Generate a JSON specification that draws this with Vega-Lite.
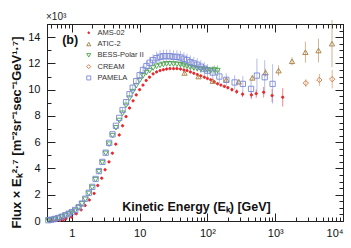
{
  "$schema": "https://vega.github.io/schema/vega-lite/v6.json",
  "autosize": {"type": "none"},
  "width": 296,
  "height": 197,
  "padding": {"left": 47, "top": 24, "right": 8, "bottom": 27},
  "background": "white",
  "title": {"text": "×10³", "anchor": "start", "frame": "group", "offset": 2, "dx": -1, "dy": 4, "fontSize": 10, "fontWeight": "normal", "font": "Liberation Sans", "color": "#222"},
  "config": {
    "view": {"stroke": "#222", "strokeWidth": 1},
    "axis": {"grid": false, "domainColor": "#222", "tickColor": "#222", "labelFont": "Liberation Sans", "labelFontSize": 11, "labelColor": "#111", "titleFont": "Liberation Sans", "titleColor": "#111"},
    "legend": {"orient": "none", "legendX": 38, "legendY": 5, "padding": 0, "labelFont": "Liberation Sans", "labelFontSize": 7.5, "labelColor": "#333", "labelOffset": 5, "symbolSize": 16, "symbolStrokeWidth": 0.9, "rowPadding": 2.3}
  },
  "data": {"values": [
    {"exp":"AMS-02","E":0.51,"F":0.02},{"exp":"AMS-02","E":0.58,"F":0.03},{"exp":"AMS-02","E":0.67,"F":0.05},{"exp":"AMS-02","E":0.75,"F":0.1},{"exp":"AMS-02","E":0.82,"F":0.18},{"exp":"AMS-02","E":0.98,"F":0.3},{"exp":"AMS-02","E":1.16,"F":0.55},{"exp":"AMS-02","E":1.37,"F":0.85},{"exp":"AMS-02","E":1.57,"F":1.18},{"exp":"AMS-02","E":1.81,"F":1.6},{"exp":"AMS-02","E":2.13,"F":2.1},{"exp":"AMS-02","E":2.41,"F":2.7},{"exp":"AMS-02","E":2.76,"F":3.26},{"exp":"AMS-02","E":3.09,"F":3.9},{"exp":"AMS-02","E":3.53,"F":4.5},{"exp":"AMS-02","E":3.96,"F":5.16},{"exp":"AMS-02","E":4.45,"F":5.85},{"exp":"AMS-02","E":5.0,"F":6.55},{"exp":"AMS-02","E":5.6,"F":7.25},{"exp":"AMS-02","E":6.3,"F":7.95},{"exp":"AMS-02","E":7.1,"F":8.6},{"exp":"AMS-02","E":8.0,"F":9.15},{"exp":"AMS-02","E":8.9,"F":9.6},{"exp":"AMS-02","E":10,"F":10.0},{"exp":"AMS-02","E":11.2,"F":10.35},{"exp":"AMS-02","E":12.5,"F":10.7},{"exp":"AMS-02","E":14,"F":10.95},{"exp":"AMS-02","E":15.8,"F":11.2},{"exp":"AMS-02","E":17.8,"F":11.35},{"exp":"AMS-02","E":20,"F":11.45},{"exp":"AMS-02","E":22.4,"F":11.52},{"exp":"AMS-02","E":25,"F":11.57},{"exp":"AMS-02","E":28,"F":11.6},{"exp":"AMS-02","E":31.6,"F":11.6},{"exp":"AMS-02","E":35.5,"F":11.6},{"exp":"AMS-02","E":40,"F":11.57},{"exp":"AMS-02","E":45,"F":11.5},{"exp":"AMS-02","E":50,"F":11.45},{"exp":"AMS-02","E":56,"F":11.35},{"exp":"AMS-02","E":63,"F":11.25},{"exp":"AMS-02","E":71,"F":11.15},{"exp":"AMS-02","E":80,"F":11.05},{"exp":"AMS-02","E":90,"F":10.95},{"exp":"AMS-02","E":100,"F":10.85},{"exp":"AMS-02","E":112,"F":10.75},{"exp":"AMS-02","E":126,"F":10.6},{"exp":"AMS-02","E":141,"F":10.45},{"exp":"AMS-02","E":158,"F":10.35},
    {"exp":"AMS-02","E":178,"F":10.25,"lo":10.15,"hi":10.35},{"exp":"AMS-02","E":200,"F":10.15,"lo":10.03,"hi":10.27},{"exp":"AMS-02","E":230,"F":10.0,"lo":9.85,"hi":10.15},{"exp":"AMS-02","E":270,"F":9.85,"lo":9.67,"hi":10.03},{"exp":"AMS-02","E":330,"F":9.65,"lo":9.43,"hi":9.87},{"exp":"AMS-02","E":445,"F":9.6,"lo":9.3,"hi":9.9},{"exp":"AMS-02","E":525,"F":9.7,"lo":9.38,"hi":10.02},{"exp":"AMS-02","E":675,"F":9.8,"lo":9.4,"hi":10.2},{"exp":"AMS-02","E":900,"F":9.55,"lo":9.05,"hi":10.05},{"exp":"AMS-02","E":1290,"F":9.42,"lo":8.72,"hi":10.12},
    {"exp":"ATIC-2","E":46,"F":11.27,"lo":11.12,"hi":11.42},{"exp":"ATIC-2","E":74,"F":11.0,"lo":10.85,"hi":11.15},{"exp":"ATIC-2","E":120,"F":10.65,"lo":10.5,"hi":10.8},{"exp":"ATIC-2","E":190,"F":10.75,"lo":10.6,"hi":10.9},{"exp":"ATIC-2","E":290,"F":10.6,"lo":10.42,"hi":10.78},{"exp":"ATIC-2","E":460,"F":10.9,"lo":10.7,"hi":11.1},{"exp":"ATIC-2","E":720,"F":11.3,"lo":11.0,"hi":11.6},{"exp":"ATIC-2","E":1120,"F":11.45,"lo":11.05,"hi":11.85},{"exp":"ATIC-2","E":1770,"F":12.16,"lo":11.86,"hi":12.46},{"exp":"ATIC-2","E":2790,"F":12.85,"lo":12.05,"hi":13.65},{"exp":"ATIC-2","E":4350,"F":12.98,"lo":12.08,"hi":13.88},{"exp":"ATIC-2","E":6880,"F":13.5,"lo":11.7,"hi":15.3},
    {"exp":"BESS-Polar II","E":0.45,"F":0.05},{"exp":"BESS-Polar II","E":0.5,"F":0.09},{"exp":"BESS-Polar II","E":0.56,"F":0.15},{"exp":"BESS-Polar II","E":0.63,"F":0.22},{"exp":"BESS-Polar II","E":0.71,"F":0.31},{"exp":"BESS-Polar II","E":0.8,"F":0.42},{"exp":"BESS-Polar II","E":0.9,"F":0.53},{"exp":"BESS-Polar II","E":1.0,"F":0.65},{"exp":"BESS-Polar II","E":1.12,"F":0.8},{"exp":"BESS-Polar II","E":1.26,"F":1.02},{"exp":"BESS-Polar II","E":1.41,"F":1.3},{"exp":"BESS-Polar II","E":1.58,"F":1.65},{"exp":"BESS-Polar II","E":1.78,"F":2.1},{"exp":"BESS-Polar II","E":2.0,"F":2.55},{"exp":"BESS-Polar II","E":2.24,"F":3.15},{"exp":"BESS-Polar II","E":2.51,"F":3.75},{"exp":"BESS-Polar II","E":2.82,"F":4.45},{"exp":"BESS-Polar II","E":3.16,"F":5.15},{"exp":"BESS-Polar II","E":3.55,"F":5.85},{"exp":"BESS-Polar II","E":3.98,"F":6.5},{"exp":"BESS-Polar II","E":4.47,"F":7.1},{"exp":"BESS-Polar II","E":5.0,"F":7.65},{"exp":"BESS-Polar II","E":5.6,"F":8.2},{"exp":"BESS-Polar II","E":6.3,"F":8.8},{"exp":"BESS-Polar II","E":7.1,"F":9.35},{"exp":"BESS-Polar II","E":7.9,"F":9.85},{"exp":"BESS-Polar II","E":8.9,"F":10.3},{"exp":"BESS-Polar II","E":10,"F":10.7},{"exp":"BESS-Polar II","E":11.2,"F":11.05},{"exp":"BESS-Polar II","E":12.6,"F":11.3},{"exp":"BESS-Polar II","E":14.1,"F":11.45},{"exp":"BESS-Polar II","E":15.8,"F":11.65},{"exp":"BESS-Polar II","E":17.8,"F":11.78},{"exp":"BESS-Polar II","E":20,"F":11.85},{"exp":"BESS-Polar II","E":22.4,"F":11.92},{"exp":"BESS-Polar II","E":25,"F":11.96},{"exp":"BESS-Polar II","E":28,"F":11.97},{"exp":"BESS-Polar II","E":31.6,"F":11.95},{"exp":"BESS-Polar II","E":35.5,"F":11.93},{"exp":"BESS-Polar II","E":40,"F":11.9,"lo":11.8,"hi":12.0},{"exp":"BESS-Polar II","E":45,"F":11.85,"lo":11.73,"hi":11.97},{"exp":"BESS-Polar II","E":50,"F":11.78,"lo":11.64,"hi":11.92},{"exp":"BESS-Polar II","E":56,"F":11.7,"lo":11.54,"hi":11.86},{"exp":"BESS-Polar II","E":63,"F":11.65,"lo":11.47,"hi":11.83},{"exp":"BESS-Polar II","E":71,"F":11.6,"lo":11.4,"hi":11.8},{"exp":"BESS-Polar II","E":80,"F":11.55,"lo":11.33,"hi":11.77},{"exp":"BESS-Polar II","E":90,"F":11.55,"lo":11.3,"hi":11.8},{"exp":"BESS-Polar II","E":100,"F":11.5,"lo":11.22,"hi":11.78},{"exp":"BESS-Polar II","E":112,"F":11.45,"lo":11.15,"hi":11.75},{"exp":"BESS-Polar II","E":126,"F":11.5,"lo":11.15,"hi":11.85},{"exp":"BESS-Polar II","E":141,"F":11.45,"lo":11.05,"hi":11.85},
    {"exp":"CREAM","E":2830,"F":10.5,"lo":10.2,"hi":10.8},{"exp":"CREAM","E":4480,"F":10.74,"lo":10.29,"hi":11.19},{"exp":"CREAM","E":6930,"F":10.8,"lo":10.1,"hi":11.5},
    {"exp":"PAMELA","E":0.45,"F":0.06},{"exp":"PAMELA","E":0.5,"F":0.1},{"exp":"PAMELA","E":0.56,"F":0.16},{"exp":"PAMELA","E":0.63,"F":0.23},{"exp":"PAMELA","E":0.71,"F":0.33},{"exp":"PAMELA","E":0.8,"F":0.44},{"exp":"PAMELA","E":0.9,"F":0.56},{"exp":"PAMELA","E":1.0,"F":0.68},{"exp":"PAMELA","E":1.12,"F":0.84},{"exp":"PAMELA","E":1.26,"F":1.05},{"exp":"PAMELA","E":1.41,"F":1.33},{"exp":"PAMELA","E":1.58,"F":1.7},{"exp":"PAMELA","E":1.78,"F":2.15},{"exp":"PAMELA","E":2.0,"F":2.6},{"exp":"PAMELA","E":2.24,"F":3.2},{"exp":"PAMELA","E":2.51,"F":3.8},{"exp":"PAMELA","E":2.82,"F":4.5},{"exp":"PAMELA","E":3.16,"F":5.2},{"exp":"PAMELA","E":3.55,"F":5.95},{"exp":"PAMELA","E":3.98,"F":6.6},{"exp":"PAMELA","E":4.47,"F":7.25},{"exp":"PAMELA","E":5.0,"F":7.85},{"exp":"PAMELA","E":5.6,"F":8.45,"lo":8.3,"hi":8.6},{"exp":"PAMELA","E":6.3,"F":9.05,"lo":8.88,"hi":9.22},{"exp":"PAMELA","E":7.1,"F":9.65,"lo":9.45,"hi":9.85},{"exp":"PAMELA","E":7.9,"F":10.15,"lo":9.92,"hi":10.38},{"exp":"PAMELA","E":8.9,"F":10.65,"lo":10.4,"hi":10.9},{"exp":"PAMELA","E":10,"F":11.1,"lo":10.8,"hi":11.4},{"exp":"PAMELA","E":11.2,"F":11.5,"lo":11.15,"hi":11.85},{"exp":"PAMELA","E":12.6,"F":11.8,"lo":11.4,"hi":12.2},{"exp":"PAMELA","E":14.1,"F":12.05,"lo":11.6,"hi":12.5},{"exp":"PAMELA","E":15.8,"F":12.25,"lo":11.8,"hi":12.7},{"exp":"PAMELA","E":17.8,"F":12.4,"lo":11.9,"hi":12.9},{"exp":"PAMELA","E":20,"F":12.5,"lo":12.0,"hi":13.0},{"exp":"PAMELA","E":22.4,"F":12.55,"lo":12.05,"hi":13.05},{"exp":"PAMELA","E":25,"F":12.55,"lo":12.05,"hi":13.05},{"exp":"PAMELA","E":28,"F":12.55,"lo":12.05,"hi":13.05},{"exp":"PAMELA","E":31.6,"F":12.5,"lo":12.0,"hi":13.0},{"exp":"PAMELA","E":35.5,"F":12.5,"lo":12.0,"hi":13.0},{"exp":"PAMELA","E":40,"F":12.45,"lo":11.95,"hi":12.95},{"exp":"PAMELA","E":45,"F":12.35,"lo":11.85,"hi":12.85},{"exp":"PAMELA","E":50,"F":12.25,"lo":11.75,"hi":12.75},{"exp":"PAMELA","E":56,"F":12.1,"lo":11.6,"hi":12.6},{"exp":"PAMELA","E":63,"F":12.0,"lo":11.5,"hi":12.5},{"exp":"PAMELA","E":71,"F":11.9,"lo":11.4,"hi":12.4},{"exp":"PAMELA","E":80,"F":11.75,"lo":11.25,"hi":12.25},{"exp":"PAMELA","E":90,"F":11.6,"lo":11.1,"hi":12.1},{"exp":"PAMELA","E":100,"F":11.45,"lo":10.95,"hi":11.95},{"exp":"PAMELA","E":120,"F":11.3,"lo":10.8,"hi":11.8},{"exp":"PAMELA","E":150,"F":11.0,"lo":10.5,"hi":11.5},{"exp":"PAMELA","E":190,"F":10.75,"lo":10.25,"hi":11.25},{"exp":"PAMELA","E":252,"F":10.55,"lo":10.0,"hi":11.1},{"exp":"PAMELA","E":333,"F":10.44,"lo":9.84,"hi":11.04},{"exp":"PAMELA","E":440,"F":10.06,"lo":9.36,"hi":10.76},{"exp":"PAMELA","E":537,"F":11.07,"lo":9.77,"hi":12.37},{"exp":"PAMELA","E":700,"F":10.95,"lo":9.65,"hi":12.25},{"exp":"PAMELA","E":915,"F":10.44,"lo":8.94,"hi":11.94}
  ]},
  "resolve": {"axis": {"x": "independent", "y": "independent"}},
  "layer": [
    {
      "transform": [{"filter": "datum.lo != null"}],
      "mark": {"type": "rule", "strokeWidth": 1, "opacity": 0.55},
      "encoding": {
        "x": {"field": "E", "type": "quantitative", "scale": {"type": "log", "domain": [0.43, 10000], "nice": false},
          "axis": {"orient": "top", "title": null, "labels": false, "values": [0.5,0.6,0.7,0.8,0.9,1,2,3,4,5,6,7,8,9,10,20,30,40,50,60,70,80,90,100,200,300,400,500,600,700,800,900,1000,2000,3000,4000,5000,6000,7000,8000,9000,10000],
            "tickSize": {"condition": {"test": "indexof([1,10,100,1000,10000], datum.value) >= 0", "value": -8}, "value": -4}}},
        "y": {"field": "lo", "type": "quantitative", "scale": {"domain": [0, 15], "nice": false, "zero": false},
          "axis": {"orient": "right", "title": null, "labels": false, "values": [0,0.5,1,1.5,2,2.5,3,3.5,4,4.5,5,5.5,6,6.5,7,7.5,8,8.5,9,9.5,10,10.5,11,11.5,12,12.5,13,13.5,14,14.5,15],
            "tickSize": {"condition": {"test": "datum.value % 2 == 0", "value": -8}, "value": -4}}},
        "y2": {"field": "hi"},
        "color": {"field": "exp", "type": "nominal", "legend": null,
          "scale": {"range": ["#e8262b","#a67c3d","#4aa34a","#d2743a","#7b88d6"]}}
      }
    },
    {
      "mark": {"type": "point", "size": 28, "strokeWidth": 0.9, "opacity": 1},
      "encoding": {
        "x": {"field": "E", "type": "quantitative",
          "axis": {"orient": "bottom", "title": "Kinetic Energy (Eₖ)  [GeV]", "titleFontSize": 12.5, "titleFontWeight": "bold", "titleX": 149, "titleY": -10.5, "titleBaseline": "alphabetic", "titleAlign": "center",
            "values": [0.5,0.6,0.7,0.8,0.9,1,2,3,4,5,6,7,8,9,10,20,30,40,50,60,70,80,90,100,200,300,400,500,600,700,800,900,1000,2000,3000,4000,5000,6000,7000,8000,9000,10000],
            "labelExpr": "datum.value == 1 ? '1' : datum.value == 10 ? '10' : datum.value == 100 ? '10²' : datum.value == 1000 ? '10³' : datum.value == 10000 ? '10⁴' : ''",
            "labelPadding": 14,
            "tickSize": {"condition": {"test": "indexof([1,10,100,1000,10000], datum.value) >= 0", "value": -8}, "value": -4}}},
        "y": {"field": "F", "type": "quantitative",
          "axis": {"orient": "left", "title": "Flux × Eₖ²·⁷ [m⁻²sr⁻¹sec⁻¹GeV¹·⁷]", "titleFontSize": 13, "titleFontWeight": "bold", "titleX": -24, "titleY": 108, "titleAlign": "center", "titleAngle": -90,
            "values": [0,0.5,1,1.5,2,2.5,3,3.5,4,4.5,5,5.5,6,6.5,7,7.5,8,8.5,9,9.5,10,10.5,11,11.5,12,12.5,13,13.5,14,14.5,15],
            "format": "d",
            "labelExpr": "datum.value % 2 == 0 && datum.value < 15 ? datum.label : ''",
            "labelAlign": "right", "labelBaseline": "middle",
            "labelPadding": 15,
            "tickSize": {"condition": {"test": "datum.value % 2 == 0", "value": -8}, "value": -4}}},
        "shape": {"field": "exp", "type": "nominal",
          "scale": {"domain": ["AMS-02","ATIC-2","BESS-Polar II","CREAM","PAMELA"], "range": ["M-0.45,0A0.45,0.45 0 1,1 0.45,0A0.45,0.45 0 1,1 -0.45,0Z","triangle-up","triangle-down","diamond","square"]},
          "title": null},
        "stroke": {"field": "exp", "type": "nominal",
          "scale": {"domain": ["AMS-02","ATIC-2","BESS-Polar II","CREAM","PAMELA"], "range": ["#e8262b","#a67c3d","#4aa34a","#d2743a","#7b88d6"]},
          "title": null},
        "fill": {"field": "exp", "type": "nominal",
          "scale": {"domain": ["AMS-02","ATIC-2","BESS-Polar II","CREAM","PAMELA"], "range": ["#e8262b","transparent","transparent","transparent","transparent"]},
          "title": null}
      }
    },
    {
      "data": {"values": [{"label": "(b)"}]},
      "mark": {"type": "text", "align": "left", "baseline": "alphabetic", "font": "Liberation Sans", "fontSize": 12.5, "fontWeight": "bold", "color": "#111"},
      "encoding": {"text": {"field": "label"}, "x": {"datum": 0.72, "type": "quantitative", "axis": null}, "y": {"datum": 13.48, "type": "quantitative", "axis": null}}
    }
  ]
}
